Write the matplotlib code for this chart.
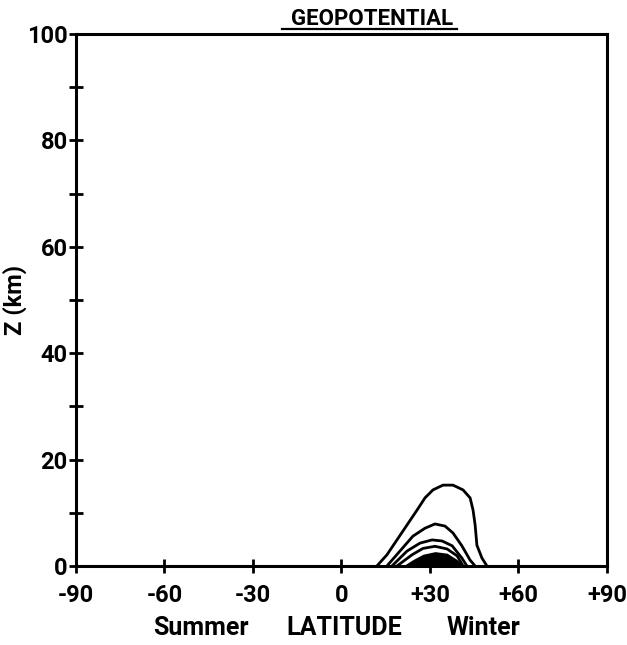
import matplotlib
matplotlib.use("Agg")
import matplotlib.pyplot as plt

plt.rcParams['font.family'] = ['Roboto', 'DejaVu Sans']

# contour lines (latitude, height km)
c1_lat = [12.0, 15.4, 18.8, 22.2, 25.6, 28.3, 31.0, 34.4, 37.8, 41.2, 43.6, 44.6, 45.3, 45.9, 47.6, 49.3]
c1_z = [0.0, 2.1, 4.9, 7.7, 10.5, 12.8, 14.3, 15.2, 15.2, 14.3, 12.8, 10.5, 7.7, 3.9, 1.5, 0.0]
c2_lat = [15.4, 19.8, 24.2, 28.3, 31.7, 35.1, 37.8, 40.8, 43.6, 45.3]
c2_z = [0.0, 2.8, 5.6, 7.1, 7.9, 7.5, 6.2, 3.8, 1.1, 0.0]
c3_lat = [17.1, 22.2, 26.6, 30.7, 34.1, 37.5, 40.8, 42.5]
c3_z = [0.0, 2.8, 4.3, 4.9, 4.7, 3.8, 1.5, 0.0]
c4_lat = [18.8, 23.9, 27.6, 31.7, 35.8, 39.2, 41.2]
c4_z = [0.0, 2.1, 3.3, 3.7, 3.2, 1.9, 0.0]
# dense contours near the ground, drawn as a solid dome
dome_lat = [20.8, 24.2, 27.6, 31.7, 35.8, 39.2, 41.2]
dome_z = [0.0, 1.2, 2.2, 2.7, 2.4, 1.2, 0.0]

xticks = [-90, -60, -30, 0, 30, 60, 90]
xticklabels = ["-90", "-60", "-30", "0", "+30", "+60", "+90"]
yticks = [0, 20, 40, 60, 80, 100]

fig = plt.figure(figsize=(6.27, 6.45), dpi=100)
ax = fig.add_axes([0.1212, 0.1225, 0.8469, 0.8248])

lw = 2.0
for la, zz in [(c1_lat, c1_z), (c2_lat, c2_z), (c3_lat, c3_z), (c4_lat, c4_z)]:
    ax.plot(la, zz, color='black', lw=lw, solid_joinstyle='round', solid_capstyle='round')
ax.fill_between(dome_lat, dome_z, 0, color='black', lw=0)

ax.set_xlim(-90, 90)
ax.set_ylim(0, 100)
ax.set_xticks(xticks)
ax.set_xticklabels(xticklabels)
ax.set_yticks(yticks)
ax.set_yticks(range(10, 100, 20), minor=True)
for s in ax.spines.values():
    s.set_linewidth(2.2)
ax.tick_params(which='both', direction='inout', width=2.0, length=10, labelsize=17)
ax.tick_params(axis='x', pad=8)
ax.tick_params(axis='y', pad=1)
for t in ax.get_xticklabels() + ax.get_yticklabels():
    t.set_fontweight('bold')

ax.set_ylabel("Z (km)", fontsize=17, fontweight='bold')
ax.yaxis.set_label_coords(-0.092, 0.5)

# x axis caption in three parts
for xf, word in [(0.235, "Summer"), (0.505, "LATITUDE"), (0.768, "Winter")]:
    ax.text(xf, -0.1165, word, transform=ax.transAxes, ha='center', va='center',
            fontsize=18, fontweight='bold')

ax.text(0.557, 1.008, "GEOPOTENTIAL", transform=ax.transAxes, ha='center', va='bottom',
        fontsize=16, fontweight='bold')
ax.plot([0.388, 0.718], [1.009, 1.009], transform=ax.transAxes, color='black', lw=1.6,
        clip_on=False)

fig.savefig("out.png", dpi=100)
